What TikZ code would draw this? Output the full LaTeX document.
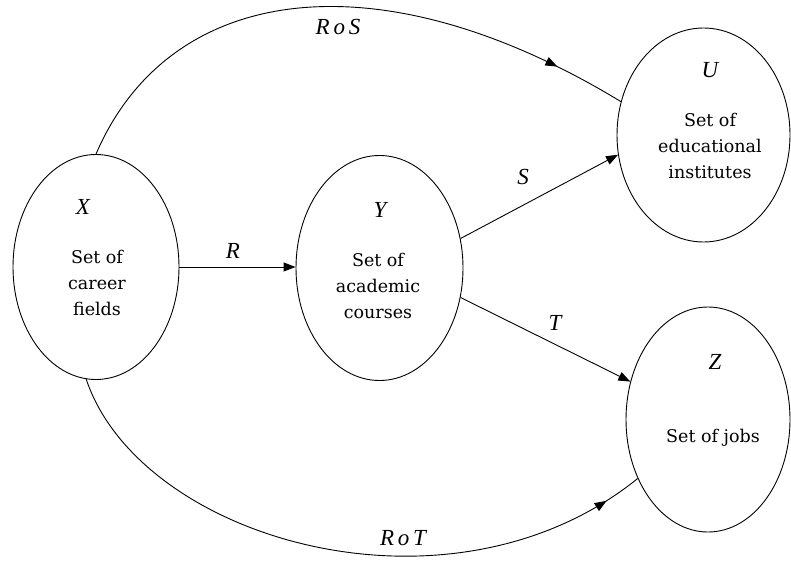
\documentclass[tikz,border=0pt]{standalone}
\usepackage{fontspec}
\setmainfont{Liberation Serif}
\newfontfamily\bodyfont{DejaVu Serif}
\usetikzlibrary{arrows.meta,shapes.geometric,decorations.markings}
\begin{document}
\begin{tikzpicture}[x=1pt,y=-1pt,
  setnode/.style={ellipse,draw,line width=0.9pt,inner sep=0pt},
  conn/.style={line width=0.9pt,-{Triangle[length=12pt,width=9pt]}},
  curveconn/.style={line width=0.9pt,postaction={decorate},
    decoration={markings,mark=at position #1 with {\arrow{Triangle[length=12pt,width=9pt]}}}},
  body/.style={font=\bodyfont\fontsize{17.5}{26}\selectfont,align=center,inner sep=0pt},
  lab/.style={font=\fontsize{23}{27}\selectfont\itshape,inner sep=0pt}]
\useasboundingbox (0,0) rectangle (791,564);
% sets
\node[setnode,minimum width=166pt,minimum height=225pt] (X) at (96,267) {};
\node[setnode,minimum width=167pt,minimum height=225pt] (Y) at (379.5,268) {};
\node[setnode,minimum width=173pt,minimum height=214pt] (U) at (703.5,135) {};
\node[setnode,minimum width=164pt,minimum height=225pt] (Z) at (708,419.5) {};
% texts in sets
\node[lab] (Xl) at (83,207) {X};
\node[body] (Xt) at (97,283) {Set of\\career\\fields};
\node[lab] (Yl) at (380,210) {Y};
\node[body] (Yt) at (378,286) {Set of\\academic\\courses};
\node[lab] (Ul) at (710,70) {U};
\node[body] (Ut) at (710,146) {Set of\\educational\\institutes};
\node[lab] (Zl) at (715,362) {Z};
\node[body] (Zt) at (713,438) {Set of jobs};
% connectors
\draw[conn] (X.east) -- (X.east -| Y.west);
\draw[conn] (Y.20) -- (U.193);
\draw[conn] (Y.-20) -- (Z.154);
\draw[curveconn=0.88] (X.north) .. controls (170,-18) and (380,-45) .. (U.158);
\draw[curveconn=0.94] (X.-95) .. controls (140,540) and (450,630) .. (Z.220);
% connector labels
\node[lab] (RoS) at (338,27) {R\,o\,S};
\node[lab] (Rl) at (233,251) {R};
\node[lab] (Sl) at (523,177) {S};
\node[lab] (Tl) at (555,323) {T};
\node[lab] (RoT) at (403,538) {R\,o\,T};
\end{tikzpicture}
\end{document}
